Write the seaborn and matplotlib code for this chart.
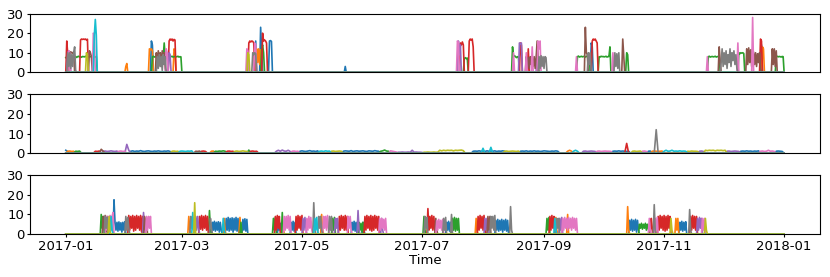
import pandas as pd
import matplotlib
matplotlib.use("Agg")
import matplotlib.pyplot as plt
import matplotlib.dates as mdates
import seaborn as sns

YEAR_START = "2017-01-01"
YEAR_END = "2018-01-01"
COLOR_NAMES = ["blue", "orange", "green", "red", "purple", "brown", "pink", "gray", "olive", "cyan"]
Y_TICKS = [0, 10, 20, 30]
X_TICK_MONTHS = [1, 3, 5, 7, 9, 11]
X_LABEL = "Time"

# (series colour, start time, values at 12-hour steps)
TOP_SEGMENTS = [
    ("green", "2017-01-01 00", [7.5, 8, 7.8, 8.2, 7.6, 8, 8.3, 7.7, 8, 7.9, 8.1, 7.6, 8, 8.2, 7.8, 8,
                                7.7, 8.1, 8, 7.9, 8.2, 7.8, 8, 7.6, 8.1, 8, 7.9, 8.3, 7.7, 8, 7.8, 8.1]),
    ("red", "2017-01-01 12", [16, 9]),
    ("red", "2017-01-08 12", [16.5, 17, 16.8, 17, 16.6]),
    ("red", "2017-01-10 12", [16.8, 17, 16.5, 16.9]),
    ("purple", "2017-01-02 00", [10, 11, 9]),
    ("pink", "2017-01-02 12", [11, 10]),
    ("brown", "2017-01-02 12", [10, 9, 10.5, 10, 9.5, 10.5]),
    ("brown", "2017-01-13 00", [11, 10, 8]),
    ("gray", "2017-01-02 00", [10, 3, 10, 2, 9, 3, 10, 13, 1]),
    ("olive", "2017-01-11 12", [10, 9]),
    ("cyan", "2017-01-15 12", [19, 27, 19]),
    ("pink", "2017-01-15 00", [20, 19]),
    ("orange", "2017-01-31 12", [3, 4.5]),
    ("orange", "2017-02-12 12", [12, 11.5, 12, 11]),
    ("orange", "2017-02-25 00", [12, 11]),
    ("blue", "2017-02-13 12", [16, 14]),
    ("green", "2017-02-14 00", [8, 8.2, 7.8, 8, 8.1, 7.9, 8, 8.2, 7.8, 8, 8.1, 7.9, 15, 8, 8.2,
                                7.8, 8, 8.1, 7.9, 8, 8.2, 7.8, 8, 8.1, 7.9, 8, 8.2, 7.8, 8, 7.9]),
    ("brown", "2017-02-16 00", [10, 4, 11, 6, 10, 3, 11, 5, 10, 2]),
    ("gray", "2017-02-16 12", [8, 2, 9, 3, 8, 1, 9, 4, 8]),
    ("pink", "2017-02-21 00", [12, 10]),
    ("red", "2017-02-22 12", [16, 17, 16.5, 17, 16, 16.8, 16.5]),
    ("purple", "2017-02-22 12", [10, 9]),
    ("pink", "2017-04-03 00", [12, 11]),
    ("pink", "2017-04-07 00", [15, 14]),
    ("olive", "2017-04-03 12", [10, 9]),
    ("red", "2017-04-04 00", [15, 16, 15.5, 16, 15.8, 15]),
    ("red", "2017-04-11 00", [20, 16, 16.5, 16, 15]),
    ("gray", "2017-04-06 00", [10, 9, 10, 9.5]),
    ("orange", "2017-04-08 00", [12, 5, 12, 4, 11.5]),
    ("blue", "2017-04-07 12", [16]),
    ("blue", "2017-04-10 00", [23, 12]),
    ("blue", "2017-04-14 12", [16, 16.2, 15.8]),
    ("green", "2017-04-10 12", [12, 14, 10]),
    ("blue", "2017-05-23 00", [3]),
    ("pink", "2017-07-19 00", [16, 15]),
    ("purple", "2017-07-19 12", [16, 9, 14]),
    ("red", "2017-07-20 12", [15, 14, 15.5, 14]),
    ("red", "2017-07-25 00", [16, 17, 16.5, 17, 13]),
    ("green", "2017-07-22 12", [7, 7.5, 7, 7.3]),
    ("green", "2017-08-16 00", [13, 8, 8.5, 8, 7.5, 8, 7.8]),
    ("pink", "2017-08-16 12", [10]),
    ("purple", "2017-08-19 12", [15, 14.5, 15]),
    ("red", "2017-08-20 00", [15, 14]),
    ("brown", "2017-08-23 00", [8, 3, 7.5, 2, 8, 4, 7, 3, 8, 2, 7.5, 16, 6]),
    ("pink", "2017-08-23 00", [10]),
    ("pink", "2017-08-26 00", [13]),
    ("pink", "2017-08-29 00", [16, 12, 16]),
    ("red", "2017-08-24 00", [12]),
    ("gray", "2017-08-29 12", [8, 2, 8.5, 3, 8, 2, 8, 7.5]),
    ("purple", "2017-08-28 12", [14]),
    ("pink", "2017-09-17 12", [8]),
    ("green", "2017-09-18 00", [8, 8.3, 7.8, 8, 8.2, 7.9, 8.1, 8, 7.8, 8.2, 8, 8.1, 7.9]),
    ("green", "2017-09-29 00", [8, 7.8, 8.2, 8, 8.1, 7.9, 8, 8.2, 7.8, 8, 8.1, 13]),
    ("green", "2017-10-13 00", [10, 9]),
    ("brown", "2017-09-22 00", [23, 10, 9]),
    ("brown", "2017-10-11 00", [17, 8]),
    ("gray", "2017-09-23 12", [10, 4, 10]),
    ("gray", "2017-10-07 00", [10, 3, 9.5, 2, 10]),
    ("blue", "2017-09-25 00", [15, 13]),
    ("red", "2017-09-25 12", [16, 17, 16.5, 17, 16, 15]),
    ("pink", "2017-10-06 00", [10]),
    ("pink", "2017-11-23 00", [8]),
    ("green", "2017-11-23 12", [8, 8.2, 7.8, 8, 8.1, 7.9, 8, 8.2, 7.8, 8, 8.1, 7.9]),
    ("green", "2017-12-09 00", [10, 9.5, 10, 9.8, 10, 9.6]),
    ("green", "2017-12-28 00", [8, 8.2, 7.9, 8.1, 8, 7.8, 8.1, 8]),
    ("brown", "2017-11-29 00", [13, 6]),
    ("brown", "2017-12-13 00", [12, 4, 12.5, 5, 11.5, 3, 12]),
    ("brown", "2017-12-16 12", [10, 4, 10, 3, 9.5, 5, 10, 2]),
    ("brown", "2017-12-26 00", [12, 4, 12, 3, 11]),
    ("gray", "2017-11-30 00", [5, 12, 3, 10, 4, 11, 2, 9, 5, 12, 3, 10, 6, 11, 4, 9, 2]),
    ("pink", "2017-12-08 12", [15]),
    ("pink", "2017-12-16 00", [28]),
    ("red", "2017-12-20 00", [17, 16]),
    ("blue", "2017-12-20 12", [14]),
    ("orange", "2017-12-21 00", [13, 12]),
]

# (series colour, start day, daily values)
MID_SEGMENTS = [
    ("blue", "2017-01-01", [1.5, 0.8]),
    ("orange", "2017-01-02", [1, 1.1, 0.9, 1]),
    ("green", "2017-01-06", [1, 0.9, 1.1]),
    ("red", "2017-01-16", [1, 0.9, 1.1]),
    ("brown", "2017-01-19", [2, 1]),
    ("purple", "2017-01-20", [1, 1.1, 0.9, 1, 1.2, 1, 0.9, 1.1]),
    ("pink", "2017-01-28", [1, 1.1, 0.9, 1]),
    ("purple", "2017-02-01", [4.5, 1.5]),
    ("blue", "2017-02-03", [1, 1.2, 0.9, 1.1, 1, 1.3, 1, 0.9, 1.1, 1.2, 1, 0.9, 1.1, 1, 1.2, 1, 0.9,
                            1.1, 1, 1.2, 0.9]),
    ("olive", "2017-02-24", [1, 1.1, 0.9, 1]),
    ("cyan", "2017-02-28", [1, 1.1, 1, 0.9, 1.1, 1, 1.2]),
    ("brown", "2017-03-08", [1, 0.9, 1.1]),
    ("red", "2017-03-11", [1, 1.1, 0.9]),
    ("orange", "2017-03-16", [1, 1.1]),
    ("green", "2017-03-18", [1, 0.9, 1.1, 1, 1.2, 1]),
    ("red", "2017-03-24", [1, 1.1, 0.9, 1]),
    ("olive", "2017-03-28", [1, 1.1, 0.9, 1, 1.2, 1, 0.9]),
    ("green", "2017-04-04", [1.6]),
    ("red", "2017-04-05", [1, 1.1, 0.9, 1]),
    ("purple", "2017-04-18", [1, 1.5, 1, 1.6, 1.1, 1, 1.5, 0.9]),
    ("pink", "2017-04-26", [1, 1.1, 0.9, 1]),
    ("blue", "2017-04-30", [1, 1.2, 1, 0.9, 1.1, 1.3, 1, 1.1, 0.9, 1.2]),
    ("cyan", "2017-05-10", [1, 1.1, 0.9, 1.2, 1, 1.1]),
    ("olive", "2017-05-16", [1, 1.1, 0.9, 1, 1.1, 1]),
    ("blue", "2017-05-22", [1, 1.2, 1.1, 1, 1.3, 0.9, 1.1, 1.2, 1, 1.1, 1.2, 1, 0.9, 1.2, 1.1, 1, 1.3,
                            1.1, 1]),
    ("green", "2017-06-10", [1, 1.2, 1.6, 1.1, 1]),
    ("pink", "2017-06-15", [1.2, 1, 0.8, 0.6]),
    ("purple", "2017-06-19", [0.5, 0.5, 0.6, 0.5, 0.5, 0.6, 0.5, 1.5, 0.5, 0.6, 0.5, 0.5, 0.4]),
    ("olive", "2017-07-02", [0.5, 0.5, 0.6, 0.5, 0.5, 0.6, 0.5, 0.5, 1.5, 1.2, 1.5, 1.3, 1.5, 1.4, 1.5,
                             1.2, 1.5, 1.4, 1.5, 1.6, 1.3]),
    ("blue", "2017-07-27", [1, 1.1, 1, 1.2, 1, 1.1, 0.9, 1.2, 1, 1.1, 1, 1.2, 0.9, 1.1, 1, 1.2, 1]),
    ("cyan", "2017-08-01", [2.5]),
    ("cyan", "2017-08-05", [3]),
    ("olive", "2017-08-12", [1, 1.1, 0.9, 1, 1.1, 1, 0.9, 1.1]),
    ("blue", "2017-08-20", [1, 1.1, 1, 1.2, 0.9, 1.1, 1, 1.2, 1, 1.1, 0.9, 1, 1.2, 1.1, 1, 0.9, 1.1, 1,
                            1.2, 1]),
    ("orange", "2017-09-13", [1, 1.5, 1]),
    ("cyan", "2017-09-16", [1, 1.5, 1]),
    ("purple", "2017-09-21", [1, 1.1, 0.9, 1, 1.1, 1, 0.9]),
    ("pink", "2017-09-28", [1, 1.1, 0.9, 1, 1.1, 1, 1, 0.9]),
    ("blue", "2017-10-06", [1, 1.1, 1, 1.2, 1, 1.1, 1, 0.9, 1]),
    ("red", "2017-10-13", [5]),
    ("olive", "2017-10-16", [1, 1.1, 0.9, 1, 1.1]),
    ("pink", "2017-10-21", [1, 1.1, 0.9]),
    ("blue", "2017-10-24", [1, 1.1]),
    ("orange", "2017-10-26", [1, 1.1, 1, 0.9, 1, 1.1]),
    ("gray", "2017-10-28", [12]),
    ("cyan", "2017-11-01", [1, 1.5, 1, 1.1, 1.5, 1, 1.1, 1, 1.2, 1, 1.1, 1]),
    ("olive", "2017-11-13", [1, 0.9, 1.1, 1, 1, 0.9]),
    ("purple", "2017-11-19", [1, 1.1, 0.9]),
    ("olive", "2017-11-22", [1.5, 1.3, 1.5, 1.4, 1.5, 1.2, 1.5, 1.4, 1.5, 1.3, 1.5]),
    ("purple", "2017-12-03", [1, 1.1, 0.9, 1, 1.1, 1, 0.9]),
    ("blue", "2017-12-10", [1, 1.1, 1, 1.2, 1, 1.1, 0.9, 1.1, 1, 1.2]),
    ("pink", "2017-12-20", [1, 1.1, 0.9, 1, 1.5, 1, 1.1, 0.9]),
    ("blue", "2017-12-28", [1, 1.1, 1, 0.9]),
]

# (series colour, start time, values at 12-hour steps)
BOTTOM_SEGMENTS = [
    ("green", "2017-01-19 00", [10, 3, 9]),
    ("brown", "2017-01-20 00", [9, 2, 9.5, 1, 9]),
    ("gray", "2017-01-21 00", [9, 3, 8.5]),
    ("pink", "2017-01-21 12", [9, 2, 9, 3, 9.5, 2, 9, 11]),
    ("olive", "2017-01-23 00", [9, 1]),
    ("cyan", "2017-01-24 00", [9, 2]),
    ("blue", "2017-01-25 12", [17.5, 6, 2, 6, 1.5, 6.2, 2, 5.8, 1, 6, 2, 6.3]),
    ("gray", "2017-01-31 12", [9, 2, 8.5, 3]),
    ("red", "2017-02-02 00", [9.5, 2, 9, 3, 9.5, 1.5, 9, 2, 9.5, 3, 9, 2, 9.5, 1, 9]),
    ("purple", "2017-02-09 12", [11, 2]),
    ("brown", "2017-02-10 00", [9, 2, 8.5]),
    ("pink", "2017-02-11 00", [9, 2, 9, 3, 9]),
    ("orange", "2017-03-04 12", [9, 2]),
    ("gray", "2017-03-05 12", [9, 3, 8.5, 2]),
    ("cyan", "2017-03-06 12", [11, 2]),
    ("olive", "2017-03-07 12", [16]),
    ("purple", "2017-03-08 00", [9, 2, 9, 3]),
    ("red", "2017-03-10 00", [9, 2.5, 9.5, 2, 9, 3, 9.5, 2, 9]),
    ("green", "2017-03-15 00", [12, 2]),
    ("gray", "2017-03-15 12", [8, 3]),
    ("blue", "2017-03-16 12", [6, 2, 6.5, 1.5, 6, 2, 6.3, 1, 6, 2]),
    ("cyan", "2017-03-22 00", [8, 2]),
    ("orange", "2017-03-22 12", [8, 1]),
    ("blue", "2017-03-23 12", [8, 2, 8.5, 1.5, 8, 2, 8.3, 1, 8, 2, 8.5, 1.5, 8]),
    ("orange", "2017-03-30 12", [8.5, 2]),
    ("green", "2017-03-31 00", [6]),
    ("blue", "2017-04-01 00", [7.5, 2, 7.8, 1.5, 7.5]),
    ("green", "2017-04-16 12", [8, 2, 8.5]),
    ("red", "2017-04-17 12", [9, 2, 9.5, 3, 9]),
    ("blue", "2017-04-19 00", [5, 2, 5.5, 1, 5]),
    ("green", "2017-04-21 00", [11]),
    ("orange", "2017-04-21 12", [3]),
    ("pink", "2017-04-22 00", [9, 2, 9, 3, 9.5, 2, 9]),
    ("blue", "2017-04-25 12", [6, 2, 6.5, 1.5, 6]),
    ("red", "2017-04-28 00", [9, 2, 9.5, 3, 9, 2, 9.5]),
    ("purple", "2017-05-01 12", [8, 2, 8.5, 3]),
    ("pink", "2017-05-03 12", [8, 2, 9, 3, 8.5, 2]),
    ("gray", "2017-05-07 00", [16, 3]),
    ("cyan", "2017-05-07 12", [8, 2, 8.5, 1]),
    ("gray", "2017-05-09 12", [9, 3, 9, 2]),
    ("orange", "2017-05-11 00", [10, 2]),
    ("pink", "2017-05-12 00", [9, 3, 9, 2, 9.5, 3]),
    ("gray", "2017-05-15 00", [9, 2, 9]),
    ("green", "2017-05-16 12", [8, 2, 8.5]),
    ("purple", "2017-05-18 00", [8, 3, 8]),
    ("red", "2017-05-20 00", [9, 2, 9.5, 3, 9, 2, 9.5, 2, 9]),
    ("pink", "2017-05-24 12", [9, 3, 9, 2]),
    ("blue", "2017-05-26 12", [6, 2, 6.5, 1.5, 6]),
    ("purple", "2017-05-29 12", [12, 2]),
    ("green", "2017-05-30 00", [6, 2, 5.5, 1, 6]),
    ("blue", "2017-06-01 00", [6, 2]),
    ("red", "2017-06-02 00", [9, 2, 9.5, 3, 9, 2, 9.5, 1.5, 9, 2, 9.5, 3, 9, 2, 9]),
    ("pink", "2017-06-09 12", [8, 2, 8, 3, 7.5, 2, 8]),
    ("purple", "2017-06-10 12", [8, 2]),
    ("green", "2017-07-02 00", [9, 2]),
    ("gray", "2017-07-02 12", [9, 3, 8.5]),
    ("red", "2017-07-04 00", [13, 2, 9, 3, 9.5, 2, 9, 2]),
    ("brown", "2017-07-08 00", [8, 2]),
    ("pink", "2017-07-08 12", [7, 2, 7.5, 3, 7, 2, 7.5]),
    ("gray", "2017-07-12 00", [8, 2, 8.5]),
    ("blue", "2017-07-13 12", [6, 2, 6.5, 1.5, 6]),
    ("gray", "2017-07-16 00", [10]),
    ("green", "2017-07-16 12", [8, 2, 8.5, 1.5, 8, 2, 8]),
    ("orange", "2017-07-28 12", [8, 2]),
    ("red", "2017-07-29 12", [9, 2, 9.5, 3, 9, 2, 9.5, 3]),
    ("purple", "2017-08-02 00", [8, 2, 8, 3]),
    ("brown", "2017-08-03 12", [9, 2, 9]),
    ("gray", "2017-08-05 00", [9, 3, 9, 2, 9.5]),
    ("blue", "2017-08-07 12", [7, 2, 7.5, 1.5, 7, 2, 7.5, 1, 7, 2, 7.5, 1.5, 7]),
    ("gray", "2017-08-15 00", [14, 2]),
    ("green", "2017-09-02 12", [8, 2, 8.5]),
    ("red", "2017-09-04 00", [9, 2, 9.5, 3, 9]),
    ("cyan", "2017-09-06 12", [8, 2]),
    ("orange", "2017-09-07 00", [8.5, 2]),
    ("gray", "2017-09-07 12", [8, 3, 8]),
    ("purple", "2017-09-09 00", [8, 2, 8.5]),
    ("pink", "2017-09-10 12", [8, 2, 8.5, 3, 8, 2, 8.5, 3, 8, 2, 8.5, 3, 8, 2, 8]),
    ("orange", "2017-09-13 00", [10]),
    ("orange", "2017-10-13 12", [14, 2]),
    ("blue", "2017-10-14 12", [7, 2, 7.5, 1.5, 7, 2, 7.5, 1, 7, 2]),
    ("green", "2017-10-19 12", [5, 3, 5.5, 2.5, 5, 3, 5.5, 2, 5, 3]),
    ("pink", "2017-10-24 12", [8, 2]),
    ("red", "2017-10-25 12", [8, 3]),
    ("gray", "2017-10-27 00", [15, 2]),
    ("pink", "2017-10-27 12", [8, 2, 8.5]),
    ("red", "2017-10-29 00", [9, 2, 9.5, 3, 9, 2, 9.5, 1.5, 9, 2, 9.5, 3, 9]),
    ("olive", "2017-11-04 12", [8, 2]),
    ("orange", "2017-11-07 00", [8, 2, 8]),
    ("blue", "2017-11-09 00", [6, 2, 6.5, 1.5, 6, 2, 6.3]),
    ("gray", "2017-11-14 00", [12.5, 2]),
    ("red", "2017-11-14 12", [9, 2, 9.5, 3, 9, 2, 9]),
    ("purple", "2017-11-18 00", [8, 2, 8.5, 3, 8]),
    ("pink", "2017-11-20 12", [8, 2, 8]),
    ("olive", "2017-11-22 00", [8, 2]),
]

TOP_ORDER = ["blue", "orange", "green", "red", "purple", "brown", "pink", "olive", "cyan", "gray"]
MID_ORDER = ["blue", "orange", "green", "red", "purple", "brown", "pink", "olive", "cyan", "gray"]
BOTTOM_ORDER = ["blue", "orange", "green", "red", "purple", "brown", "pink", "gray", "cyan", "olive"]

palette = dict(zip(COLOR_NAMES, sns.color_palette("tab10", 10)))


def build(segments, freq):
    grid = pd.date_range(YEAR_START, YEAR_END, freq=freq)
    frames = []
    for name in COLOR_NAMES:
        s = pd.Series(0.0, index=grid)
        for c, start, vals in segments:
            if c != name:
                continue
            idx = pd.date_range(start, periods=len(vals), freq=freq)
            s.loc[idx] = vals
        frames.append(pd.DataFrame({"Time": grid, "value": s.values, "series": name}))
    return pd.concat(frames, ignore_index=True)


plt.rcParams["font.family"] = ["DejaVu Sans"]
plt.rcParams["font.size"] = 9.5

fig, axes = plt.subplots(3, 1, figsize=(8.3, 2.77), dpi=100, sharex=True)
fig.subplots_adjust(left=0.036, right=0.988, top=0.951, bottom=0.155, hspace=0.376)

panels = [
    (build(TOP_SEGMENTS, "12h"), TOP_ORDER),
    (build(MID_SEGMENTS, "1D"), MID_ORDER),
    (build(BOTTOM_SEGMENTS, "12h"), BOTTOM_ORDER),
]

for ax, (df, order) in zip(axes, panels):
    sns.lineplot(data=df, x="Time", y="value", hue="series", hue_order=order,
                 palette=palette, estimator=None, legend=False, ax=ax, linewidth=1.2)
    ax.set_ylim(0, 30)
    ax.set_yticks(Y_TICKS)
    ax.set_ylabel("")
    ax.set_xlabel("")
    ax.tick_params(axis="both", length=2, pad=2)

for ax in axes[:2]:
    ax.tick_params(axis="x", bottom=False, labelbottom=False)

axes[2].xaxis.set_major_locator(mdates.MonthLocator(bymonth=X_TICK_MONTHS))
axes[2].xaxis.set_major_formatter(mdates.DateFormatter("%Y-%m"))
axes[2].set_xlabel(X_LABEL, labelpad=1)

fig.savefig("out.png", dpi=100)
